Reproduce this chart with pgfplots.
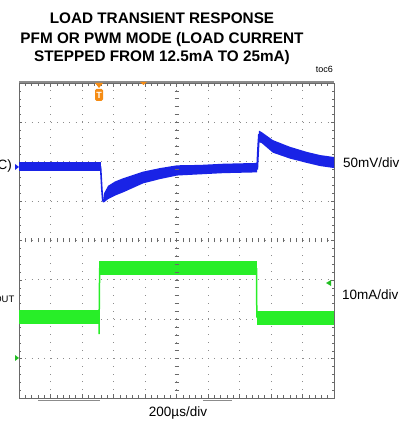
\documentclass[border=0pt]{standalone}
\usepackage{pgfplots}
\pgfplotsset{compat=1.18}
\usepackage{fontspec}
\setmainfont{Liberation Sans}
\definecolor{trblue}{RGB}{25,35,230}
\definecolor{trgreen}{RGB}{40,238,40}
\definecolor{trorange}{RGB}{245,140,20}
\definecolor{frame}{RGB}{105,105,105}
\definecolor{gridc}{RGB}{140,140,140}
\begin{document}
\begin{tikzpicture}
\begin{axis}[
  at={(19bp,23bp)}, anchor=south west,
  width=315bp, height=315bp, scale only axis,
  xmin=0, xmax=10, ymin=-4, ymax=4,
  xtick={0,...,10}, ytick={-4,...,4},
  xticklabels={}, yticklabels={},
  minor tick num=4,
  tick align=inside,
  major tick length=3.5bp, minor tick length=2.5bp,
  tick style={frame, line width=0.5bp},
  grid=major,
  x grid style={gridc, line width=0.8bp, dash pattern=on 0.8bp off 7.08bp},
  y grid style={gridc, line width=0.8bp, dash pattern=on 0.8bp off 5.5bp},
  axis line style={frame, line width=0.8bp},
  clip=false,
  band/.style={line cap=butt, line join=round},
]
% V_OUT (AC), 50mV/div
\addplot[trblue, band, line width=9bp] coordinates {(0,1.88) (2.59,1.88)};
\addplot[trblue, line width=1.6bp] coordinates {(2.59,1.88) (2.63,1.3) (2.66,0.99)};
% recovery after the load step up: upper edge, then lower edge back
\addplot[draw=none, fill=trblue] coordinates {
  (2.66,0.97) (2.70,1.20) (2.83,1.39) (3.05,1.50) (3.30,1.58) (3.94,1.75)
  (4.48,1.84) (5.02,1.91) (5.75,1.92) (6.48,1.95) (7.56,1.97)
  (7.56,1.73) (6.48,1.71) (5.75,1.68) (5.02,1.65) (4.48,1.56) (3.94,1.45)
  (3.30,1.22) (3.05,1.14) (2.83,1.05) (2.70,0.97)} -- cycle;
\addplot[trblue, line width=2bp] coordinates {(7.56,1.80) (7.59,2.3) (7.62,2.70)};
% overshoot after the load step down
\addplot[draw=none, fill=trblue] coordinates {
  (7.58,2.45) (7.62,2.79) (7.71,2.75) (8.06,2.55) (8.60,2.38) (9.14,2.25)
  (9.56,2.17) (10,2.12)
  (10,1.84) (9.56,1.89) (9.14,1.97) (8.60,2.08) (8.06,2.23) (7.71,2.47)
  (7.62,2.50)} -- cycle;
% I_OUT, 10mA/div
\addplot[trgreen, band, line width=14bp] coordinates {(0,-1.94) (2.54,-1.94)};
\addplot[trgreen, line width=1.5bp] coordinates {(2.54,-1.94) (2.54,-2.38) (2.56,-0.70)};
\addplot[trgreen, band, line width=14bp] coordinates {(2.55,-0.70) (7.54,-0.70)};
\addplot[trgreen, line width=1.5bp] coordinates {(7.54,-0.70) (7.55,-1.96)};
\addplot[trgreen, band, line width=14bp] coordinates {(7.55,-1.96) (10,-1.96)};
\end{axis}
% centre cross ticks
\foreach \i in {0,...,50} \draw[frame, line width=0.5bp] ({19bp+\i*6.3bp},178.5bp) -- ++(0,4bp);
\foreach \i in {0,...,40} \draw[frame, line width=0.5bp] (174.5bp,{23bp+\i*7.875bp}) -- ++(4bp,0);
% top bar and bottom markings
\draw[gridc, line width=2bp] (19bp,338.5bp) -- (334bp,338.5bp);
\draw[gridc, line width=1bp] (38bp,20bp) -- (100bp,20bp);
\draw[gridc, line width=1bp] (203bp,20bp) -- (232bp,20bp);
% trigger marker
\fill[trorange] (95bp,338bp) -- (103bp,338bp) -- (99bp,333bp) -- cycle;
\node[fill=trorange, rounded corners=1.5bp, text=white, inner sep=0pt,
  minimum width=8bp, minimum height=12bp, font=\bfseries\fontsize{9bp}{9bp}\selectfont]
  at (99bp,326bp) {T};
\fill[trorange] (140bp,339bp) -- (147bp,339bp) -- (143.5bp,336bp) -- cycle;
% channel markers
\fill[trgreen!80!black] (326bp,138bp) -- (331bp,141bp) -- (331bp,135bp) -- cycle;
\fill[trblue] (19bp,254bp) -- (15bp,257bp) -- (15bp,251bp) -- cycle;
\fill[trgreen!80!black] (19bp,63bp) -- (15bp,66bp) -- (15bp,60bp) -- cycle;
% texts
\begin{scope}[font=\bfseries\fontsize{15.3bp}{18bp}\selectfont]
\node[anchor=base] at (162bp,397bp) {LOAD TRANSIENT RESPONSE};
\node[anchor=base] at (162bp,377bp) {PFM OR PWM MODE (LOAD CURRENT};
\node[anchor=base] at (162bp,359bp) {STEPPED FROM 12.5mA TO 25mA)};
\end{scope}
\node[anchor=base east, inner sep=0pt, font=\fontsize{9bp}{10bp}\selectfont] at (333bp,348bp) {toc6};
\begin{scope}[font=\fontsize{13.5bp}{15bp}\selectfont]
\node[anchor=base west, inner sep=0pt] at (343bp,253bp) {50mV/div};
\node[anchor=base west, inner sep=0pt] at (342bp,121bp) {10mA/div};
\node[anchor=base, inner sep=0pt] at (178bp,5bp) {200µs/div};
\node[anchor=base east, inner sep=0pt] at (12bp,251bp) {V\textsubscript{OUT} (AC)};
\node[anchor=base east, inner sep=0pt] at (15bp,121bp) {I\textsubscript{OUT}};
\end{scope}
\pgfresetboundingbox
\useasboundingbox (0,0) rectangle (413bp,421bp);
\end{tikzpicture}
\end{document}
